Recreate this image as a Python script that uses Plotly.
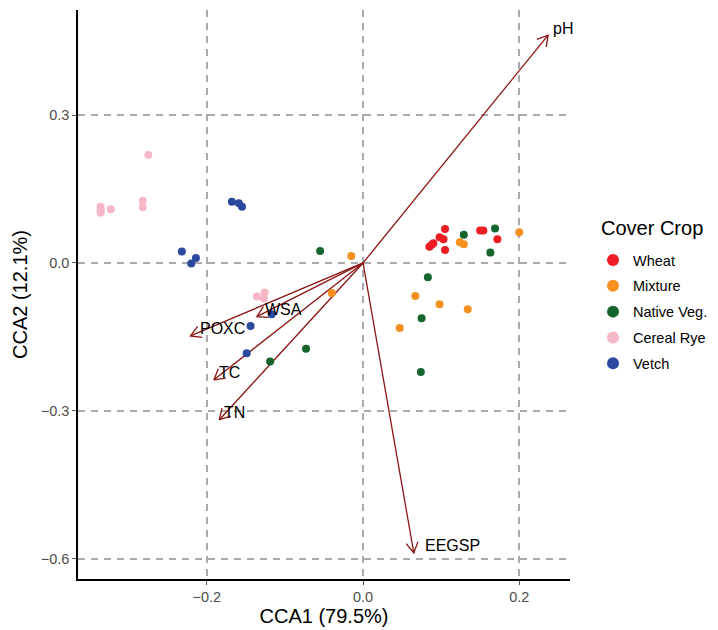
import math
import plotly.graph_objects as go

# ---------------- data ----------------
wheat_x = [0.105, 0.098, 0.103, 0.085, 0.088, 0.105, 0.150, 0.154, 0.172, 0.090]
wheat_y = [0.069, 0.052, 0.048, 0.033, 0.037, 0.026, 0.066, 0.066, 0.048, 0.040]

mixture_x = [-0.015, -0.040, 0.124, 0.129, 0.200, 0.067, 0.098, 0.134, 0.047]
mixture_y = [0.014, -0.061, 0.042, 0.038, 0.062, -0.067, -0.084, -0.094, -0.132]

native_x = [-0.055, -0.073, -0.119, 0.129, 0.169, 0.163, 0.083, 0.075, 0.074]
native_y = [0.024, -0.174, -0.200, 0.057, 0.070, 0.021, -0.029, -0.112, -0.221]

rye_x = [-0.275, -0.336, -0.336, -0.336, -0.323, -0.282, -0.282, -0.136, -0.126, -0.127]
rye_y = [0.219, 0.114, 0.102, 0.108, 0.109, 0.126, 0.113, -0.068, -0.060, -0.072]

vetch_x = [-0.168, -0.159, -0.155, -0.232, -0.220, -0.214, -0.117, -0.144, -0.149]
vetch_y = [0.124, 0.121, 0.114, 0.023, -0.001, 0.010, -0.104, -0.128, -0.183]

env_names = ["pH", "EEGSP", "POXC", "WSA", "TC", "TN"]
env_x = [0.237, 0.065, -0.221, -0.136, -0.191, -0.184]
env_y = [0.462, -0.588, -0.148, -0.109, -0.237, -0.318]

groups = ["Wheat", "Mixture", "Native Veg.", "Cereal Rye", "Vetch"]
colors = ["#EE1D23", "#F7901E", "#16652F", "#F6B8C6", "#2C4A9D"]
xs = [wheat_x, mixture_x, native_x, rye_x, vetch_x]
ys = [wheat_y, mixture_y, native_y, rye_y, vetch_y]

x_ticks = [-0.2, 0.0, 0.2]
y_ticks = [0.3, 0.0, -0.3, -0.6]

# ---------------- layout geometry ----------------
# the page body has an 8px margin, so the figure is drawn 8px in from the corner
W, H = 710, 622
ML, MR, MT, MB = 70, 148, 2, 51
PW, PH = W - ML - MR, H - MT - MB
xr = [-0.365, 0.265]
yr = [-0.641, 0.513]
sx = PW / (xr[1] - xr[0])
sy = PH / (yr[1] - yr[0])

FONT = "Liberation Sans, Arial, Helvetica, sans-serif"
ARROW = "#8B1414"
LABEL_SIZE = 16

# approximate Helvetica/Arial advance widths (em) for the label glyphs
_w = {"E": .667, "G": .778, "S": .667, "P": .667, "O": .778, "X": .667, "C": .722,
      "W": .944, "A": .667, "T": .611, "N": .722, "p": .556, "H": .722}

fig = go.Figure()

# arrows (shaft + open V head)
L = 12.0
ang = math.radians(30)
for name, tx, ty in zip(env_names, env_x, env_y):
    px, py = tx * sx, ty * sy
    n = math.hypot(px, py)
    ux, uy = px / n, py / n
    arms = []
    for s in (1, -1):
        c, si = math.cos(s * ang), math.sin(s * ang)
        rx = ux * c - uy * si
        ry = ux * si + uy * c
        arms.append((tx - L * rx / sx, ty - L * ry / sy))
    fig.add_trace(go.Scatter(
        x=[0, tx, None, arms[0][0], tx, arms[1][0]],
        y=[0, ty, None, arms[0][1], ty, arms[1][1]],
        mode="lines", line=dict(color=ARROW, width=1.3),
        showlegend=False, hoverinfo="skip"))

for g, c, x, y in zip(groups, colors, xs, ys):
    fig.add_trace(go.Scatter(
        x=x, y=y, mode="markers", name=g, legendgroup=g,
        marker=dict(color=c, size=8, line=dict(width=0))))

# labels: hjust = -0.2 (offset proportional to text width)
for name, tx, ty in zip(env_names, env_x, env_y):
    width = sum(_w.get(ch, .6) for ch in name) * LABEL_SIZE
    fig.add_annotation(x=tx, y=ty, text=name, showarrow=False,
                       xanchor="left", yanchor="middle",
                       xshift=0.2 * width - 1.5, yshift=7,
                       font=dict(family=FONT, size=LABEL_SIZE, color="black"))

# legend title as separate text
fig.add_annotation(x=(591 - ML) / PW, y=(H - MB - 220) / PH, xref="paper", yref="paper",
                   text="Cover Crop", showarrow=False, xanchor="left", yanchor="middle",
                   font=dict(family=FONT, size=20, color="black"))

axis_common = dict(
    showgrid=True, gridcolor="#AAAAAA", gridwidth=1.5, griddash="7px,6px",
    zeroline=False, showline=True, linecolor="black", linewidth=1.5,
    ticks="outside", ticklen=4, tickcolor="#555555", tickwidth=1,
    tickfont=dict(family=FONT, size=14.5, color="#4D4D4D"),
    tickformat=".1f", mirror=False, automargin=False,
)

fig.update_layout(
    width=W, height=H,
    margin=dict(l=ML, r=MR, t=MT, b=MB, autoexpand=False),
    plot_bgcolor="white", paper_bgcolor="white",
    font=dict(family=FONT, color="black"),
    xaxis=dict(range=xr, tickvals=x_ticks,
               title=dict(text="CCA1 (79.5%)", font=dict(family=FONT, size=20, color="black"), standoff=5),
               **axis_common),
    yaxis=dict(range=yr, tickvals=y_ticks,
               title=dict(text="CCA2 (12.1%)", font=dict(family=FONT, size=20, color="black"), standoff=8),
               **axis_common),
    legend=dict(
        font=dict(family=FONT, size=14.5, color="black"),
        x=(585 - ML) / PW, y=(H - MB - 236) / PH, xanchor="left", yanchor="top",
        tracegroupgap=4, itemsizing="constant", itemwidth=30,
        bgcolor="rgba(0,0,0,0)",
    ),
)

fig.write_html("out.html")
